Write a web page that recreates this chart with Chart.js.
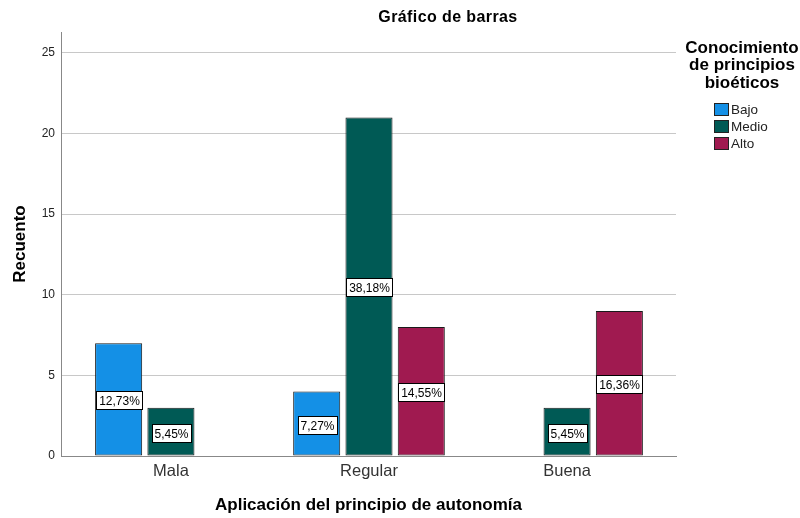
<!DOCTYPE html>
<html>
<head>
<meta charset="utf-8">
<script src="https://cdn.jsdelivr.net/npm/chart.js@4"></script>
<style>
  html, body { margin: 0; padding: 0; background: #fff; }
  #wrap { width: 800px; height: 518px; }
</style>
</head>
<body>
<div id="wrap"><canvas id="grafica"></canvas></div>
<script>
// Datos
const categorias = ['Mala', 'Regular', 'Buena'];
const niveles = ['Bajo', 'Medio', 'Alto'];
const bajo = [7, 4, 0];
const medio = [3, 21, 3];
const alto = [0, 8, 9];
const colores = ['#1490e6', '#005a55', '#a01a50'];
const yTicks = [0, 5, 10, 15, 20, 25];

const series = [bajo, medio, alto];
const total = series.flat().reduce((a, b) => a + b, 0);
const fuente = '"Liberation Sans", Arial, sans-serif';

// Etiquetas de porcentaje dentro de las barras
const etiquetasPct = {
    id: 'etiquetasPct',
    afterDatasetsDraw(chart) {
        const ctx = chart.ctx;
        ctx.save();
        ctx.font = '12px ' + fuente;
        ctx.textAlign = 'center';
        ctx.textBaseline = 'middle';
        chart.data.datasets.forEach((ds, i) => {
            const meta = chart.getDatasetMeta(i);
            meta.data.forEach((el, j) => {
                const v = ds.data[j].y;
                if (!v) return;
                const txt = (v / total * 100).toFixed(2).replace('.', ',') + '%';
                const w = Math.round(ctx.measureText(txt).width + 5);
                const h = 18;
                const cx = Math.round(el.x);
                const cy = Math.round((el.y + el.base) / 2) + 1;
                const x0 = Math.round(cx - w / 2);
                const y0 = Math.round(cy - h / 2);
                ctx.fillStyle = '#fff';
                ctx.fillRect(x0, y0, w, h);
                ctx.strokeStyle = '#000';
                ctx.lineWidth = 1;
                ctx.strokeRect(x0 + 0.5, y0 + 0.5, w, h);
                ctx.fillStyle = '#000';
                ctx.fillText(txt, cx + 0.5, cy + 1.5);
            });
        });
        ctx.restore();
    }
};

// Título y leyenda al estilo SPSS
const tituloLeyenda = {
    id: 'tituloLeyenda',
    afterDraw(chart) {
        const ctx = chart.ctx;
        const area = chart.chartArea;
        ctx.save();
        ctx.fillStyle = '#000';
        ctx.textAlign = 'center';
        ctx.textBaseline = 'middle';
        ctx.font = 'bold 16px ' + fuente;
        ctx.letterSpacing = '0.4px';
        ctx.fillText('Gráfico de barras', 448, 18);
        ctx.letterSpacing = '0px';

        const lx = area.right + 66;
        ctx.font = 'bold 17px ' + fuente;
        ['Conocimiento', 'de principios', 'bioéticos'].forEach((t, i) => {
            ctx.fillText(t, lx, 48 + i * 17.5);
        });
        ctx.font = '13.5px ' + fuente;
        ctx.textAlign = 'left';
        niveles.forEach((n, i) => {
            const y = 109 + i * 17;
            ctx.fillStyle = colores[i];
            ctx.fillRect(area.right + 38, y - 6, 15, 13);
            ctx.strokeStyle = '#222';
            ctx.lineWidth = 1;
            ctx.strokeRect(area.right + 38.5, y - 5.5, 14, 12);
            ctx.fillStyle = '#222';
            ctx.fillText(n, area.right + 55, y + 1);
        });
        ctx.restore();
    }
};

const grafica = new Chart(document.getElementById('grafica').getContext('2d'), {
    type: 'bar',
    data: {
        datasets: niveles.map((n, i) => ({
            label: n,
            data: series[i].map((v, j) => ({ x: j, y: v })),
            backgroundColor: colores[i],
            borderColor: '#1a1a1a',
            borderWidth: 1,
            borderSkipped: false,
            categoryPercentage: 0.792,
            barPercentage: 0.9
        }))
    },
    options: {
        responsive: true,
        maintainAspectRatio: false,
        animation: false,
        layout: { padding: { top: 32, right: 124, left: 0, bottom: 0 } },
        plugins: {
            legend: { display: false },
            title: { display: false },
            tooltip: { enabled: false }
        },
        scales: {
            x: {
                type: 'linear',
                offset: false,
                min: -0.555,
                max: 2.55,
                afterBuildTicks: (s) => { s.ticks = categorias.map((c, j) => ({ value: j })); },
                afterFit: (s) => { s.height = 62; },
                ticks: {
                    callback: (v) => categorias[v] ?? '',
                    font: { family: fuente, size: 16.5 },
                    color: '#333',
                    padding: 6,
                    maxRotation: 0
                },
                grid: { display: false, drawTicks: false, offset: false },
                border: { display: true, color: '#888', width: 1 },
                title: {
                    display: true,
                    text: 'Aplicación del principio de autonomía',
                    font: { family: fuente, size: 17, weight: 'bold' },
                    color: '#000',
                    padding: { top: 0, bottom: 2 }
                }
            },
            y: {
                min: 0,
                max: 26.3,
                afterBuildTicks: (s) => { s.ticks = yTicks.map(v => ({ value: v })); },
                afterFit: (s) => { s.width = 61; },
                ticks: {
                    font: { family: fuente, size: 12 },
                    color: '#222',
                    padding: 6
                },
                grid: { color: '#c8c8c8', drawTicks: false },
                border: { display: true, color: '#888', width: 1 },
                title: {
                    display: true,
                    text: 'Recuento',
                    font: { family: fuente, size: 17, weight: 'bold' },
                    color: '#000',
                    padding: { top: 10, bottom: 0 }
                }
            }
        }
    },
    plugins: [etiquetasPct, tituloLeyenda]
});
</script>
</body>
</html>
